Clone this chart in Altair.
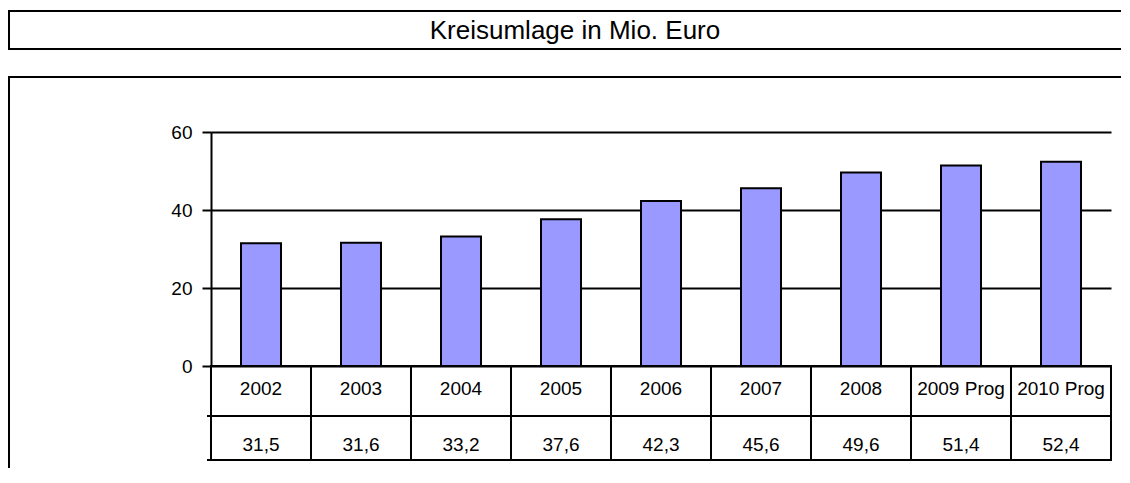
import altair as alt
import pandas as pd

categories = ["2002", "2003", "2004", "2005", "2006", "2007", "2008", "2009 Prog", "2010 Prog"]
values = [31.5, 31.6, 33.2, 37.6, 42.3, 45.6, 49.6, 51.4, 52.4]
y_ticks = [0, 20, 40, 60]
title_text = "Kreisumlage in Mio. Euro"

FONT = "Liberation Sans"
LW = 2

df = pd.DataFrame({
    "cat": categories,
    "val": values,
    "label": [f"{v:.1f}".replace(".", ",") for v in values],
})
one = pd.DataFrame({"k": [0]})

x_bar = alt.X("cat:N", sort=categories,
              scale=alt.Scale(paddingInner=0.6, paddingOuter=0.3), axis=None)
x_tab = alt.X("cat:N", sort=categories,
              scale=alt.Scale(paddingInner=0, paddingOuter=0), axis=None)

y = alt.Y("val:Q", scale=alt.Scale(domain=[0, 60], nice=False),
          axis=alt.Axis(values=y_ticks, title=None, grid=True, gridColor="black",
                        gridWidth=LW, gridOpacity=1, domainColor="black", domainWidth=LW,
                        tickColor="black", tickSize=9, tickWidth=LW,
                        labelFontSize=19, labelFont=FONT, labelColor="black",
                        labelPadding=10))

bars = alt.Chart(df).mark_bar(color="#9999FF", stroke="black", strokeWidth=LW).encode(
    x=x_bar, y=y)

row1 = alt.Chart(df).mark_rect(fill="white", fillOpacity=0, stroke="black", strokeWidth=LW).encode(
    x=x_tab, y=alt.value(234), y2=alt.value(284))
row2 = alt.Chart(df).mark_rect(fill="white", fillOpacity=0, stroke="black", strokeWidth=LW).encode(
    x=x_tab, y=alt.value(284), y2=alt.value(328))
text1 = alt.Chart(df).mark_text(font=FONT, fontSize=19, baseline="alphabetic", color="black").encode(
    x=x_tab, y=alt.value(263), text="cat:N")
text2 = alt.Chart(df).mark_text(font=FONT, fontSize=19, baseline="alphabetic", color="black").encode(
    x=x_tab, y=alt.value(319), text="label:N")

tick_a = alt.Chart(one).mark_rule(color="black", strokeWidth=LW).encode(
    x=alt.value(-4), x2=alt.value(0), y=alt.value(284))
tick_b = alt.Chart(one).mark_rule(color="black", strokeWidth=LW).encode(
    x=alt.value(-4), x2=alt.value(0), y=alt.value(328))

title_box = alt.Chart(one).mark_rect(fill="white", fillOpacity=0, stroke="black", strokeWidth=LW).encode(
    x=alt.value(-202), x2=alt.value(940), y=alt.value(-121), y2=alt.value(-83))
chart_box = alt.Chart(one).mark_rect(fill="white", fillOpacity=0, stroke="black", strokeWidth=LW).encode(
    x=alt.value(-202), x2=alt.value(940), y=alt.value(-55), y2=alt.value(400))
title = alt.Chart(one).mark_text(font=FONT, fontSize=26, baseline="alphabetic", align="center",
                                 color="black").encode(
    x=alt.value(364), y=alt.value(-93), text=alt.value(title_text))

chart = alt.layer(
    title_box, chart_box, title, bars, row1, row2, text1, text2, tick_a, tick_b
).resolve_scale(x="independent").properties(
    width=900, height=234,
    padding={"left": 203, "top": 124, "right": 10, "bottom": 102},
    autosize=alt.AutoSizeParams(type="none"),
).configure_view(stroke=None)

chart.save("out.html", embed_options={"renderer": "svg", "actions": False})
